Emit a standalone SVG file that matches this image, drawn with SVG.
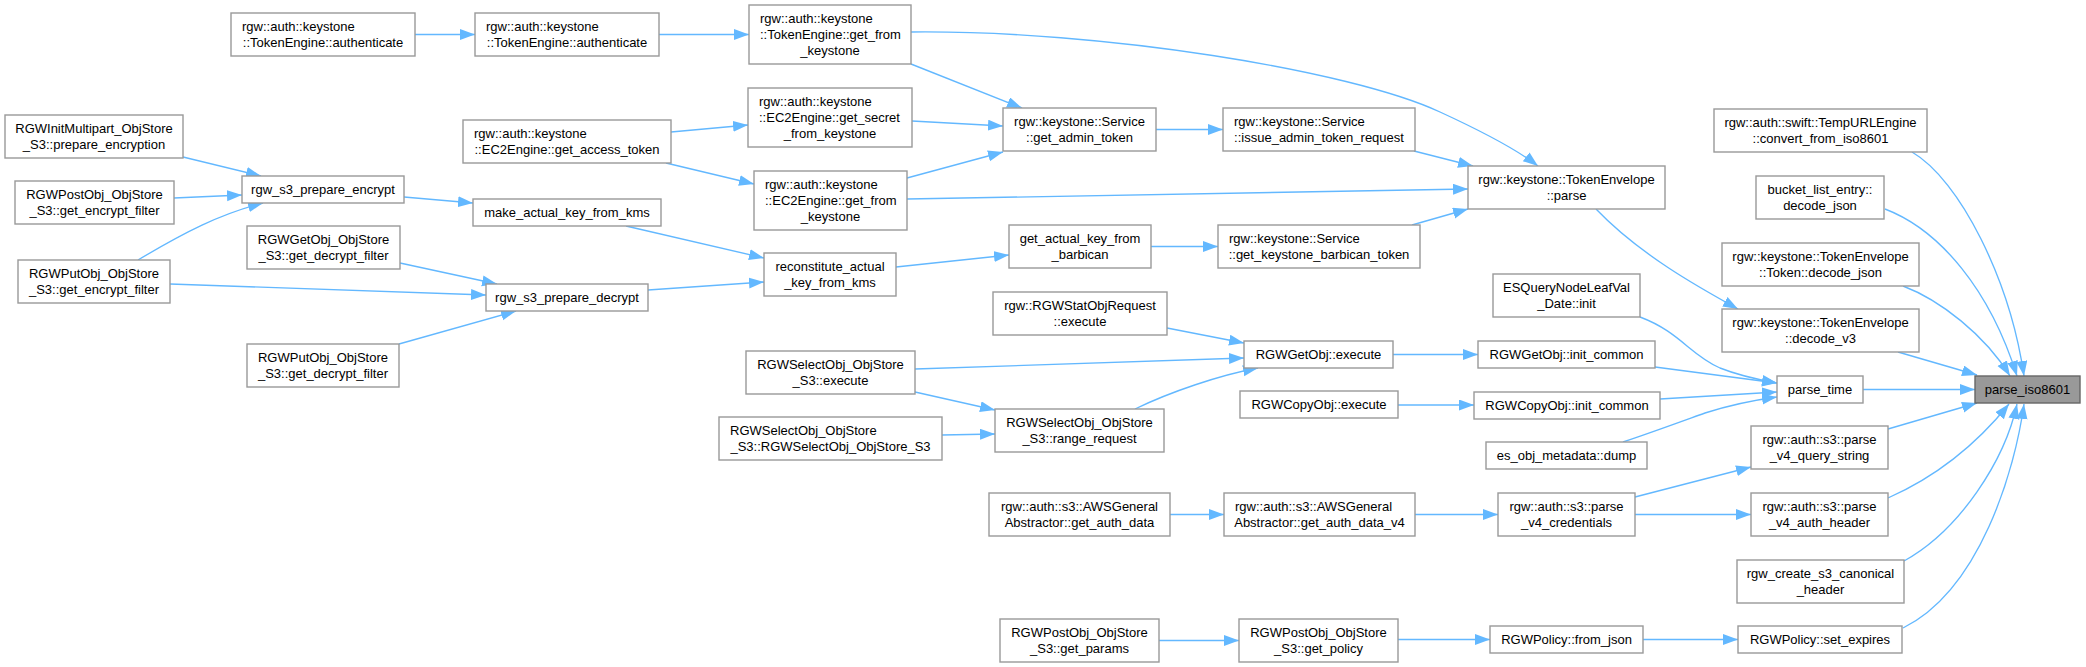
<svg xmlns="http://www.w3.org/2000/svg" width="2086" height="667" viewBox="0 0 2086 667">
<style>
.n rect{fill:#fff;stroke:#999;stroke-width:1.4}
.hl rect{fill:#999;stroke:#666;stroke-width:1.4}
text{font-family:"Liberation Sans",Arial,Helvetica,sans-serif;font-size:13px;fill:#000}
.m{text-anchor:middle}
.e path{fill:none;stroke:#63b8ff;stroke-width:1.35;marker-end:url(#ah)}
</style>
<defs>
<marker id="ah" markerUnits="userSpaceOnUse" markerWidth="16" markerHeight="12" refX="15" refY="5.5" orient="auto">
<path d="M0,0 L15,5.5 L0,11 z" fill="#63b8ff" stroke="none"/>
</marker>
</defs>
<rect width="2086" height="667" fill="#fff"/>
<g id="connectors" class="e">
<path d="M415,34.5 L475,34.5"/>
<path d="M659,34.5 L749,34.5"/>
<path d="M911,64 L1022,108"/>
<path d="M911,32 C1100,30 1350,70 1440,112 C1490,135 1520,152 1538,166"/>
<path d="M912,121 L1003,126"/>
<path d="M671,132 L748,125"/>
<path d="M666,163 L754,184"/>
<path d="M907,178 L1003,152"/>
<path d="M907,199 L1468,189"/>
<path d="M1156,129.5 L1223,129.5"/>
<path d="M1414,151 L1473,166"/>
<path d="M1412,225 L1468,209"/>
<path d="M1596,209 C1640,255 1700,288 1738,309"/>
<path d="M1898,352 L1977,375"/>
<path d="M183,157 L261,176"/>
<path d="M174,198 L242,195"/>
<path d="M138,260 C185,232 220,214 263,203"/>
<path d="M404,197 L473,203"/>
<path d="M626,226 L764,258"/>
<path d="M400,263 L497,284"/>
<path d="M170,284 L486,295"/>
<path d="M399,344 L516,311"/>
<path d="M648,290 L764,282"/>
<path d="M896,267 L1009,255"/>
<path d="M1151,246.5 L1218,246.5"/>
<path d="M1167,328 L1244,343"/>
<path d="M915,369 L1244,358"/>
<path d="M915,392 L995,410"/>
<path d="M942,435 L995,434"/>
<path d="M1135,409 C1170,392 1220,375 1258,368"/>
<path d="M1393,354.5 L1478,354.5"/>
<path d="M1398,405 L1474,405"/>
<path d="M1655,367 L1777,383"/>
<path d="M1640,317 C1680,332 1690,355 1720,368 C1740,376 1760,380 1777,383"/>
<path d="M1660,399 L1777,392"/>
<path d="M1623,442 C1650,433 1680,422 1705,413 C1730,405 1755,400 1777,397"/>
<path d="M1863,389.5 L1975,389.5"/>
<path d="M1888,429 L1977,403"/>
<path d="M1635,497 L1751,467"/>
<path d="M1635,514.5 L1751,514.5"/>
<path d="M1415,514.5 L1498,514.5"/>
<path d="M1170,514.5 L1224,514.5"/>
<path d="M1159,640.5 L1239,640.5"/>
<path d="M1398,639.5 L1490,639.5"/>
<path d="M1643,639.5 L1738,639.5"/>
<path d="M1888,498 C1940,475 1980,440 2009,404"/>
<path d="M1904,561 C1960,530 2005,460 2017,404"/>
<path d="M1903,628 C1980,590 2015,470 2024,404"/>
<path d="M1912,152 C1960,180 2010,280 2024,376"/>
<path d="M1885,209 C1940,230 1990,290 2017,376"/>
<path d="M1903,286 C1940,300 1985,335 2010,376"/>
</g>
<g id="auth1" class="n"><rect x="231" y="13" width="184" height="43"/><text x="242" y="31">rgw::auth::keystone</text><text class="m" x="323" y="47">::TokenEngine::authenticate</text></g>
<g id="auth2" class="n"><rect x="475" y="13" width="184" height="43"/><text x="486" y="31">rgw::auth::keystone</text><text class="m" x="567" y="47">::TokenEngine::authenticate</text></g>
<g id="tokenGetFrom" class="n"><rect x="749" y="5" width="162" height="59"/><text x="760" y="23">rgw::auth::keystone</text><text x="760" y="39">::TokenEngine::get_from</text><text class="m" x="830" y="55">_keystone</text></g>
<g id="ec2GetSecret" class="n"><rect x="748" y="88" width="164" height="59"/><text x="759" y="106">rgw::auth::keystone</text><text x="759" y="122">::EC2Engine::get_secret</text><text class="m" x="830" y="138">_from_keystone</text></g>
<g id="ec2GetAccess" class="n"><rect x="463" y="120" width="208" height="43"/><text x="474" y="138">rgw::auth::keystone</text><text class="m" x="567" y="154">::EC2Engine::get_access_token</text></g>
<g id="ec2GetFrom" class="n"><rect x="754" y="171" width="153" height="59"/><text x="765" y="189">rgw::auth::keystone</text><text x="765" y="205">::EC2Engine::get_from</text><text class="m" x="830.5" y="221">_keystone</text></g>
<g id="getAdminToken" class="n"><rect x="1003" y="108" width="153" height="43"/><text class="m" x="1079.5" y="126">rgw::keystone::Service</text><text class="m" x="1079.5" y="142">::get_admin_token</text></g>
<g id="issueAdmin" class="n"><rect x="1223" y="108" width="192" height="43"/><text x="1234" y="126">rgw::keystone::Service</text><text class="m" x="1319" y="142">::issue_admin_token_request</text></g>
<g id="parse" class="n"><rect x="1468" y="166" width="197" height="43"/><text class="m" x="1566.5" y="184">rgw::keystone::TokenEnvelope</text><text class="m" x="1566.5" y="200">::parse</text></g>
<g id="initMultipart" class="n"><rect x="5" y="115" width="178" height="43"/><text class="m" x="94" y="133">RGWInitMultipart_ObjStore</text><text class="m" x="94" y="149">_S3::prepare_encryption</text></g>
<g id="postEncrypt" class="n"><rect x="15" y="181" width="159" height="43"/><text class="m" x="94.5" y="199">RGWPostObj_ObjStore</text><text class="m" x="94.5" y="215">_S3::get_encrypt_filter</text></g>
<g id="putEncrypt" class="n"><rect x="18" y="260" width="152" height="43"/><text class="m" x="94" y="278">RGWPutObj_ObjStore</text><text class="m" x="94" y="294">_S3::get_encrypt_filter</text></g>
<g id="prepEncrypt" class="n"><rect x="242" y="176" width="162" height="27"/><text class="m" x="323" y="194">rgw_s3_prepare_encrypt</text></g>
<g id="makeKey" class="n"><rect x="473" y="199" width="188" height="27"/><text class="m" x="567" y="217">make_actual_key_from_kms</text></g>
<g id="getDecrypt" class="n"><rect x="247" y="226" width="153" height="43"/><text class="m" x="323.5" y="244">RGWGetObj_ObjStore</text><text class="m" x="323.5" y="260">_S3::get_decrypt_filter</text></g>
<g id="putDecrypt" class="n"><rect x="247" y="344" width="152" height="43"/><text class="m" x="323" y="362">RGWPutObj_ObjStore</text><text class="m" x="323" y="378">_S3::get_decrypt_filter</text></g>
<g id="prepDecrypt" class="n"><rect x="486" y="284" width="162" height="27"/><text class="m" x="567" y="302">rgw_s3_prepare_decrypt</text></g>
<g id="reconstitute" class="n"><rect x="764" y="253" width="132" height="43"/><text class="m" x="830" y="271">reconstitute_actual</text><text class="m" x="830" y="287">_key_from_kms</text></g>
<g id="barbican" class="n"><rect x="1009" y="225" width="142" height="43"/><text class="m" x="1080" y="243">get_actual_key_from</text><text class="m" x="1080" y="259">_barbican</text></g>
<g id="barbicanToken" class="n"><rect x="1218" y="225" width="202" height="43"/><text x="1229" y="243">rgw::keystone::Service</text><text class="m" x="1319" y="259">::get_keystone_barbican_token</text></g>
<g id="statObj" class="n"><rect x="993" y="292" width="174" height="43"/><text class="m" x="1080" y="310">rgw::RGWStatObjRequest</text><text class="m" x="1080" y="326">::execute</text></g>
<g id="getObjExec" class="n"><rect x="1244" y="341" width="149" height="27"/><text class="m" x="1318.5" y="359">RGWGetObj::execute</text></g>
<g id="selectExec" class="n"><rect x="746" y="351" width="169" height="43"/><text class="m" x="830.5" y="369">RGWSelectObj_ObjStore</text><text class="m" x="830.5" y="385">_S3::execute</text></g>
<g id="copyExec" class="n"><rect x="1240" y="391" width="158" height="27"/><text class="m" x="1319" y="409">RGWCopyObj::execute</text></g>
<g id="rangeReq" class="n"><rect x="995" y="409" width="169" height="43"/><text class="m" x="1079.5" y="427">RGWSelectObj_ObjStore</text><text class="m" x="1079.5" y="443">_S3::range_request</text></g>
<g id="selectCtor" class="n"><rect x="719" y="417" width="223" height="43"/><text x="730" y="435">RGWSelectObj_ObjStore</text><text class="m" x="830.5" y="451">_S3::RGWSelectObj_ObjStore_S3</text></g>
<g id="getAuthData" class="n"><rect x="989" y="493" width="181" height="43"/><text class="m" x="1079.5" y="511">rgw::auth::s3::AWSGeneral</text><text class="m" x="1079.5" y="527">Abstractor::get_auth_data</text></g>
<g id="getAuthDataV4" class="n"><rect x="1224" y="493" width="191" height="43"/><text x="1235" y="511">rgw::auth::s3::AWSGeneral</text><text class="m" x="1319.5" y="527">Abstractor::get_auth_data_v4</text></g>
<g id="getParams" class="n"><rect x="1000" y="619" width="159" height="43"/><text class="m" x="1079.5" y="637">RGWPostObj_ObjStore</text><text class="m" x="1079.5" y="653">_S3::get_params</text></g>
<g id="getPolicy" class="n"><rect x="1239" y="619" width="159" height="43"/><text class="m" x="1318.5" y="637">RGWPostObj_ObjStore</text><text class="m" x="1318.5" y="653">_S3::get_policy</text></g>
<g id="tempURL" class="n"><rect x="1714" y="109" width="213" height="43"/><text class="m" x="1820.5" y="127">rgw::auth::swift::TempURLEngine</text><text class="m" x="1820.5" y="143">::convert_from_iso8601</text></g>
<g id="bucketList" class="n"><rect x="1756" y="176" width="128" height="43"/><text class="m" x="1820" y="194">bucket_list_entry::</text><text class="m" x="1820" y="210">decode_json</text></g>
<g id="tokenDecodeJson" class="n"><rect x="1722" y="243" width="197" height="43"/><text class="m" x="1820.5" y="261">rgw::keystone::TokenEnvelope</text><text class="m" x="1820.5" y="277">::Token::decode_json</text></g>
<g id="esQuery" class="n"><rect x="1493" y="274" width="147" height="43"/><text class="m" x="1566.5" y="292">ESQueryNodeLeafVal</text><text class="m" x="1566.5" y="308">_Date::init</text></g>
<g id="decodeV3" class="n"><rect x="1722" y="309" width="197" height="43"/><text class="m" x="1820.5" y="327">rgw::keystone::TokenEnvelope</text><text class="m" x="1820.5" y="343">::decode_v3</text></g>
<g id="getObjInit" class="n"><rect x="1478" y="341" width="177" height="27"/><text class="m" x="1566.5" y="359">RGWGetObj::init_common</text></g>
<g id="copyInit" class="n"><rect x="1474" y="392" width="186" height="27"/><text class="m" x="1567" y="410">RGWCopyObj::init_common</text></g>
<g id="esDump" class="n"><rect x="1486" y="442" width="161" height="27"/><text class="m" x="1566.5" y="460">es_obj_metadata::dump</text></g>
<g id="parseTime" class="n"><rect x="1777" y="376" width="86" height="27"/><text class="m" x="1820" y="394">parse_time</text></g>
<g id="parseIso" class="hl"><rect x="1975" y="376" width="105" height="27"/><text class="m" x="2027.5" y="394">parse_iso8601</text></g>
<g id="queryString" class="n"><rect x="1751" y="426" width="137" height="43"/><text class="m" x="1819.5" y="444">rgw::auth::s3::parse</text><text class="m" x="1819.5" y="460">_v4_query_string</text></g>
<g id="credentials" class="n"><rect x="1498" y="493" width="137" height="43"/><text class="m" x="1566.5" y="511">rgw::auth::s3::parse</text><text class="m" x="1566.5" y="527">_v4_credentials</text></g>
<g id="authHeader" class="n"><rect x="1751" y="493" width="137" height="43"/><text class="m" x="1819.5" y="511">rgw::auth::s3::parse</text><text class="m" x="1819.5" y="527">_v4_auth_header</text></g>
<g id="canonical" class="n"><rect x="1737" y="560" width="167" height="43"/><text class="m" x="1820.5" y="578">rgw_create_s3_canonical</text><text class="m" x="1820.5" y="594">_header</text></g>
<g id="fromJson" class="n"><rect x="1490" y="626" width="153" height="27"/><text class="m" x="1566.5" y="644">RGWPolicy::from_json</text></g>
<g id="setExpires" class="n"><rect x="1738" y="626" width="164" height="27"/><text class="m" x="1820" y="644">RGWPolicy::set_expires</text></g>
</svg>
